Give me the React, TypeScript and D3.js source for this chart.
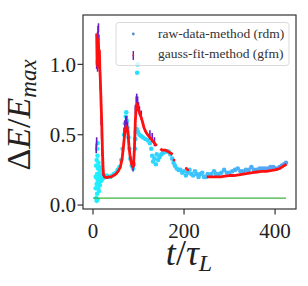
import React from 'react';
import * as d3 from 'd3';

// raw-data-method (rdm) points
const rdmT = [
  6, 6, 7, 7, 8, 8, 8, 9, 9, 9, 10, 10, 10, 10, 11, 11, 12, 12, 13, 13, 14, 14, 15, 15, 16, 17, 17, 18, 19, 20, 22, 24,
  26, 30, 34, 38, 42, 46, 50, 54, 58, 62, 65, 68, 70, 72, 73, 74, 76, 78, 80, 82, 85, 88, 90, 92, 93, 94, 96, 97, 98, 99,
  102, 106, 110, 115, 120, 125, 128, 130, 132, 135, 138, 140, 143, 146, 150, 154, 158, 162, 166, 170, 174, 177, 180,
  184, 188, 192, 196, 200, 204, 208, 212, 216, 220, 224, 228, 232, 236, 240, 244, 248, 252, 256, 260, 266, 270, 276,
  282, 288, 294, 300, 306, 312, 318, 324, 330, 336, 342, 348, 354, 360, 366, 372, 378, 384, 390, 396, 400, 405, 410,
  415, 420, 424,
];
const rdmE = [
  0.12, 0.2, 0.05, 0.28, 0.03, 0.15, 0.32, 0.08, 0.22, 0.4, 0.04, 0.18, 0.35, 0.44, 0.12, 0.26, 0.16, 0.3, 0.1, 0.22,
  0.19, 0.27, 0.14, 0.24, 0.2, 0.17, 0.25, 0.21, 0.18, 0.22, 0.19, 0.21,
  0.2, 0.21, 0.2, 0.2, 0.21, 0.22, 0.23, 0.25, 0.27, 0.32, 0.4, 0.5, 0.58, 0.63, 0.66, 0.6, 0.55, 0.48, 0.4, 0.33, 0.28,
  0.26, 0.29, 0.4, 0.47, 0.52, 0.54, 0.94, 1.0, 0.52,
  0.5, 0.49, 0.48, 0.47, 0.46, 0.44, 0.4, 0.35, 0.31, 0.33, 0.29, 0.36, 0.32, 0.34, 0.36, 0.37, 0.38, 0.38, 0.38, 0.36,
  0.33, 0.3, 0.28,
  0.26, 0.25, 0.25, 0.23, 0.24, 0.21, 0.23, 0.25, 0.22, 0.21, 0.24, 0.22, 0.2, 0.22, 0.23, 0.2, 0.2, 0.22, 0.21, 0.22,
  0.24, 0.22, 0.22,
  0.23, 0.25, 0.23, 0.23, 0.24, 0.25, 0.26, 0.24, 0.24, 0.25, 0.25, 0.27, 0.25, 0.25, 0.26, 0.26, 0.26, 0.26, 0.27,
  0.27, 0.26, 0.26, 0.27,
  0.28, 0.29, 0.3,
];

// gauss-fit-method (gfm) points
const gfmT = [
  7, 8, 8, 9, 10, 10, 11, 11, 12, 12, 13, 14, 15, 16, 17, 18, 19, 20, 21, 22,
  68, 70, 72, 74, 76, 78, 88, 90, 93, 95, 96, 98, 100, 102, 106, 125, 130, 135,
];
const gfmE = [
  0.4, 0.45, 1.0, 1.12, 1.2, 0.98, 1.24, 1.08, 1.26, 1.1, 1.18, 1.05, 0.95, 0.85, 0.72, 0.6, 0.5, 0.38, 0.3, 0.24,
  0.52, 0.57, 0.6, 0.6, 0.56, 0.5, 0.27, 0.3, 0.68, 0.74, 0.76, 0.74, 0.7, 0.67, 0.64, 0.5, 0.48, 0.45,
];

// red fit curve, null = gap
const fitT = [
  8, 9, 10, 11, 12, 13, 14, 15, 16, 17, 18, 19, 20, 21, 22, 23, 25, 30, 35, 40, 45, 50, 55, 60, 64, 67, 70, 73, 75, 77,
  79, 81, 84, 87, 89, 91, 93, 95, 97, 100, 104, 108, 112, 116, 120, 125, 130, 135, 140, null,
  148, 152, 156, 160, 165, 170, 175, null,
  250, 260, 270, 280, 290, 300, 310, 320, 330, 340, 350, 360, 370, 380, 390, 400, 410, 415, 420, 425,
];
const fitE = [
  1.22, 1.0, 1.18, 0.98, 1.15, 1.05, 1.1, 0.97, 0.9, 0.8, 0.7, 0.6, 0.48, 0.36, 0.27, 0.22, 0.2, 0.195, 0.2, 0.2, 0.21,
  0.22, 0.24, 0.27, 0.33, 0.42, 0.52, 0.56, 0.55, 0.5, 0.42, 0.36, 0.3, 0.27, 0.28, 0.4, 0.6, 0.7, 0.72, 0.68, 0.64,
  0.6, 0.55, 0.52, 0.5, 0.48, 0.46, 0.44, 0.42, null,
  0.4, 0.39, 0.39, 0.39, 0.38, 0.37, 0.36, null,
  0.2, 0.2, 0.2, 0.2, 0.205, 0.21, 0.21, 0.215, 0.22, 0.225, 0.23, 0.235, 0.24, 0.24, 0.245, 0.25, 0.26, 0.27, 0.28,
  0.29,
];
const fitDotT = [178, 205, 208];
const fitDotE = [0.32, 0.26, 0.25];

const threshold = 0.05;
const thresholdRange = [0, 424];

const xTicks = [0, 200, 400];
const yTicks = [0, 0.5, 1.0];

const W = 308;
const H = 286;
const left = 83;
const right = 296;
const top = 15;
const bottom = 209;

export default function App() {
  const x = d3.scaleLinear().domain([-22, 446]).range([left, right]);
  const y = d3.scaleLinear().domain([-0.028, 1.351]).range([bottom, top]);
  const color = d3.scaleLinear<string>().domain([0, 200, 425]).range(['#1ef0ff', '#38c8ff', '#5a9ef0']);

  const fitPts = fitT.map((t, i) => [t, fitE[i]] as [number | null, number | null]);
  const line = d3
    .line<[number | null, number | null]>()
    .defined((d) => d[0] !== null && d[1] !== null)
    .x((d) => x(d[0] as number))
    .y((d) => y(d[1] as number));

  const serif = '"Liberation Serif", "DejaVu Serif", serif';

  return (
    <svg
      width={W}
      height={H}
      style={{ position: 'absolute', left: 0, top: 0, background: '#fff' }}
      fontFamily={serif}
    >
      <defs>
        <clipPath id="plot">
          <rect x={left} y={top} width={right - left} height={bottom - top} />
        </clipPath>
      </defs>
      <g clipPath="url(#plot)">
        {rdmT.map((t, i) => (
          <circle key={'r' + i} cx={x(t)} cy={y(rdmE[i])} r={2.3} fill={color(t)} />
        ))}
        <line
          x1={x(thresholdRange[0])}
          x2={x(thresholdRange[1])}
          y1={y(threshold)}
          y2={y(threshold)}
          stroke="#3cb43c"
          strokeWidth={1.2}
        />
        {gfmT.map((t, i) => (
          <line
            key={'g' + i}
            x1={x(t)}
            x2={x(t)}
            y1={y(gfmE[i]) - 4.5}
            y2={y(gfmE[i]) + 4.5}
            stroke="#6a1bc8"
            strokeWidth={1.6}
          />
        ))}
        <path d={line(fitPts) || ''} fill="none" stroke="#ff1010" strokeWidth={2.8} strokeLinejoin="round" />
        {fitDotT.map((t, i) => (
          <circle key={'f' + i} cx={x(t)} cy={y(fitDotE[i])} r={1.4} fill="#ff1010" />
        ))}
      </g>

      {/* legend */}
      <rect x={116} y={22.5} width={173} height={43} rx={3} fill="#fff" fillOpacity={0.8} stroke="#d0d0d0" strokeWidth={0.8} />
      <circle cx={133.3} cy={34} r={1.4} fill="#4f8fd0" />
      <text x={158} y={38} fontSize={13.5} fill="#333">raw-data-method (rdm)</text>
      <line x1={133.3} x2={133.3} y1={51} y2={60} stroke="#6a1bc8" strokeWidth={1.4} />
      <circle cx={133.3} cy={55.5} r={0.9} fill="#ff1010" />
      <text x={158} y={58} fontSize={13.5} fill="#333">gauss-fit-method (gfm)</text>

      {/* frame */}
      <rect x={left} y={top} width={right - left} height={bottom - top} fill="none" stroke="#333" strokeWidth={1.2} />

      {/* y axis */}
      {yTicks.map((v) => (
        <g key={'y' + v}>
          <line x1={left - 5.5} x2={left} y1={y(v)} y2={y(v)} stroke="#333" strokeWidth={1.2} />
          <text x={left - 7} y={y(v)} dy="0.35em" textAnchor="end" fontSize={21} fill="#222">
            {v.toFixed(1)}
          </text>
        </g>
      ))}
      {/* x axis */}
      {xTicks.map((v) => (
        <g key={'x' + v}>
          <line x1={x(v)} x2={x(v)} y1={bottom} y2={bottom + 5.5} stroke="#333" strokeWidth={1.2} />
          <text x={x(v)} y={238} textAnchor="middle" fontSize={21} fill="#222">
            {v}
          </text>
        </g>
      ))}

      <text x={189} y={265} textAnchor="middle" fontSize={36} fill="#222">
        <tspan fontStyle="italic">t</tspan>
        <tspan>/</tspan>
        <tspan fontStyle="italic">τ</tspan>
        <tspan fontStyle="italic" fontSize={24} dy={6}>L</tspan>
      </text>
      <text transform="translate(30,115) rotate(-90)" textAnchor="middle" fontSize={34} fill="#222">
        <tspan>Δ</tspan>
        <tspan fontStyle="italic">E</tspan>
        <tspan>/</tspan>
        <tspan fontStyle="italic">E</tspan>
        <tspan fontStyle="italic" fontSize={23} dy={6}>max</tspan>
      </text>
    </svg>
  );
}
